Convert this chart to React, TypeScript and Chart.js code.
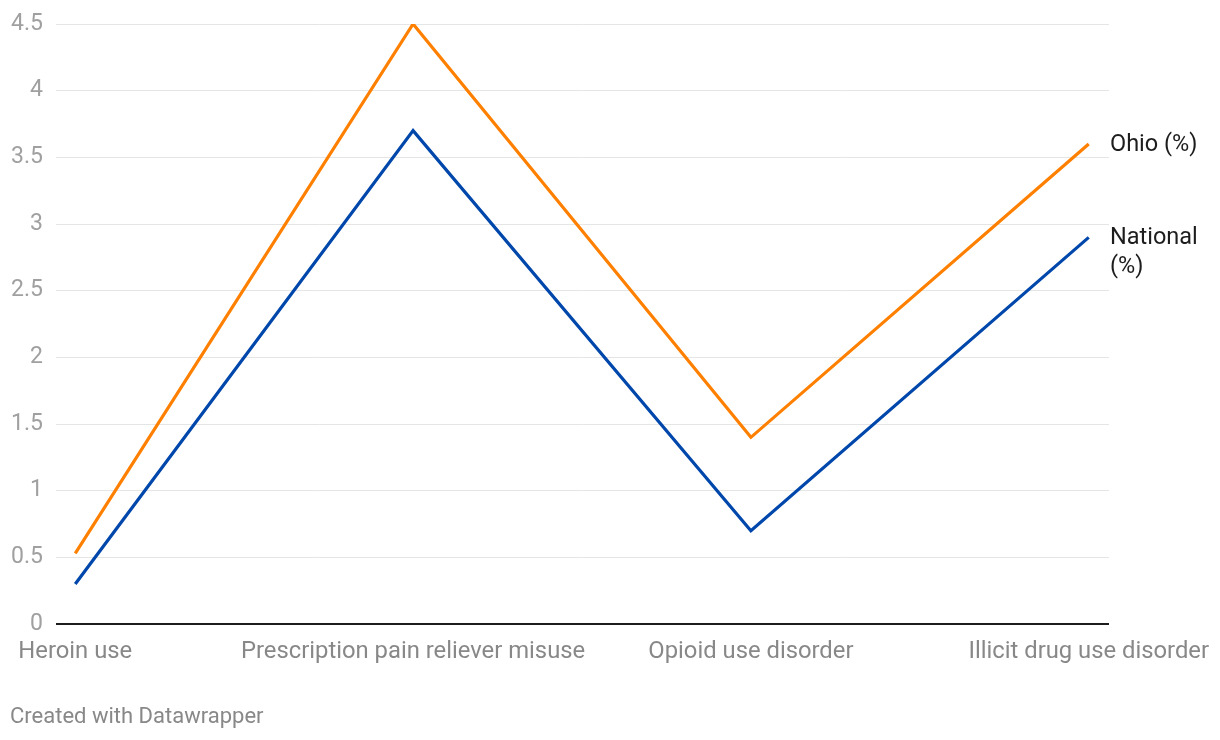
import React, { useEffect, useRef } from "react";
import { Chart, registerables } from "chart.js";

Chart.register(...registerables);

const categories = [
  "Heroin use",
  "Prescription pain reliever misuse",
  "Opioid use disorder",
  "Illicit drug use disorder",
];
const ohioValues = [0.53, 4.5, 1.4, 3.6];
const nationalValues = [0.3, 3.7, 0.7, 2.9];
const seriesNames = ["Ohio (%)", "National (%)"];
const seriesLabelLines = [["Ohio (%)"], ["National", "(%)"]];
const yTicks = [0, 0.5, 1, 1.5, 2, 2.5, 3, 3.5, 4, 4.5];
const footerText = "Created with Datawrapper";

const FONT = "Roboto, 'Noto Sans', sans-serif";

export default function App() {
  const canvasRef = useRef<HTMLCanvasElement | null>(null);

  useEffect(() => {
    const canvas = canvasRef.current;
    if (!canvas) return;

    const labelPlugin = {
      id: "dwLabels",
      afterDraw(chart: any) {
        const ctx = chart.ctx;
        const yScale = chart.scales.y;
        ctx.save();
        ctx.font = `23.5px ${FONT}`;
        ctx.fillStyle = "#1d1d1d";
        ctx.textAlign = "left";
        ctx.textBaseline = "middle";
        chart.data.datasets.forEach((ds: any, i: number) => {
          const last = ds.data[ds.data.length - 1];
          const y = yScale.getPixelForValue(last.y);
          const lines = seriesLabelLines[i];
          lines.forEach((line: string, j: number) => {
            ctx.fillText(line, chart.chartArea.right + 1, y + 1 + j * 29);
          });
        });
        ctx.font = `22px ${FONT}`;
        ctx.fillStyle = "#888888";
        ctx.fillText(footerText, 10, 717);
        ctx.restore();
      },
    };

    const chart = new Chart(canvas, {
      type: "line",
      data: {
        datasets: [
          {
            label: seriesNames[0],
            data: ohioValues.map((v, i) => ({ x: i, y: v })),
            borderColor: "#ff8000",
            borderWidth: 3.2,
            pointRadius: 0,
            tension: 0,
            fill: false,
            borderJoinStyle: "miter",
          },
          {
            label: seriesNames[1],
            data: nationalValues.map((v, i) => ({ x: i, y: v })),
            borderColor: "#0047ab",
            borderWidth: 3.2,
            pointRadius: 0,
            tension: 0,
            fill: false,
            borderJoinStyle: "miter",
          },
        ],
      },
      options: {
        animation: false,
        responsive: true,
        maintainAspectRatio: false,
        layout: { padding: { top: 24, right: 111, left: 0, bottom: 76 } },
        plugins: {
          legend: { display: false },
          tooltip: { enabled: false },
        },
        scales: {
          x: {
            type: "linear",
            min: -0.057,
            max: 3.06,
            grid: { display: false },
            border: { display: false },
            afterBuildTicks: (scale: any) => {
              scale.ticks = categories.map((_, i) => ({ value: i }));
            },
            afterFit: (scale: any) => {
              scale.height = 40;
            },
            ticks: {
              autoSkip: false,
              maxRotation: 0,
              minRotation: 0,
              padding: 6,
              color: "#888888",
              font: { family: FONT, size: 23.8 },
              callback: (v: any) => categories[Math.round(Number(v))] ?? "",
            },
          },
          y: {
            type: "linear",
            min: 0,
            max: 4.5,
            afterBuildTicks: (scale: any) => {
              scale.ticks = yTicks.map((v) => ({ value: v }));
            },
            afterFit: (scale: any) => {
              scale.width = 56;
              scale.paddingTop = 0;
              scale.paddingBottom = 0;
            },
            border: { display: false },
            grid: {
              drawTicks: false,
              color: (c: any) => (c.tick && c.tick.value === 0 ? "#1d1d1d" : "#e5e5e5"),
              lineWidth: (c: any) => (c.tick && c.tick.value === 0 ? 2 : 1),
            },
            ticks: {
              padding: 13,
              color: "#a0a0a0",
              font: { family: FONT, size: 23, lineHeight: 1 },
              callback: (v: any) => String(v),
            },
          },
        },
      },
      plugins: [labelPlugin],
    } as any);

    return () => chart.destroy();
  }, []);

  return (
    <div style={{ position: "absolute", left: 0, top: 0, width: 1220, height: 740, background: "#fff" }}>
      <canvas ref={canvasRef} />
    </div>
  );
}
